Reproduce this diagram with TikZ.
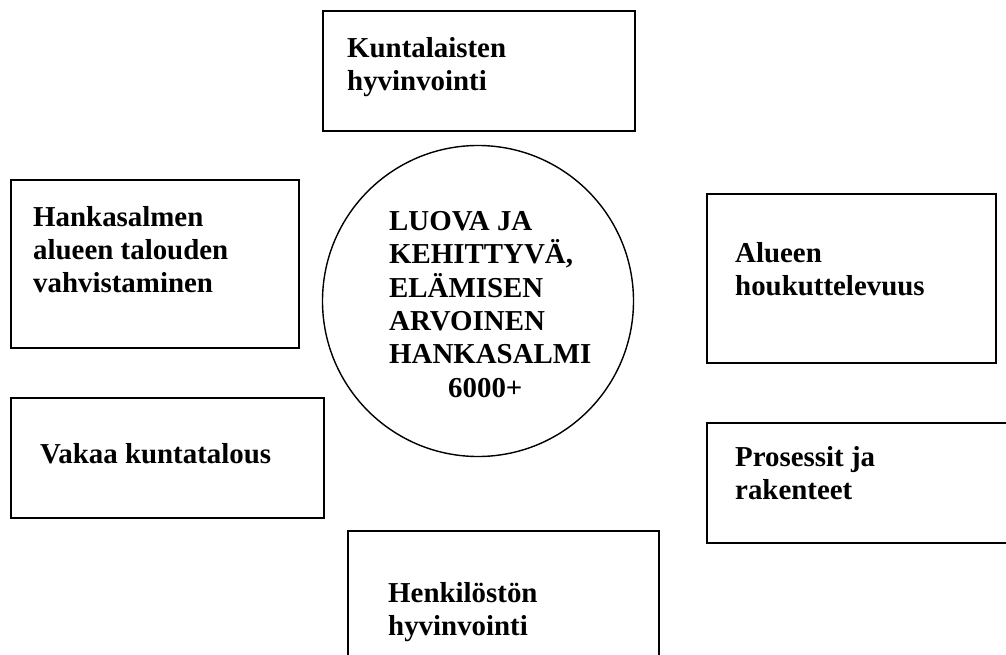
\documentclass[tikz,border=0pt]{standalone}
\usepackage{fontspec}
\setmainfont{Liberation Serif}
\begin{document}
\begin{tikzpicture}[x=1bp,y=-1bp,
  lbl/.style={font=\bfseries\fontsize{29}{33.5}\selectfont, align=left, inner sep=0pt, anchor=north west},
  box/.style={draw, line width=1.8bp, rectangle, inner sep=0pt, anchor=north west},
  ring/.style={draw, circle, line width=1.4bp, inner sep=0pt},
]
\useasboundingbox (0,0) rectangle (1006,655);
% boxes
\node[box, minimum width=312bp, minimum height=120bp] (kunta) at (322,10) {};
\node[box, minimum width=288bp, minimum height=168bp] (hanka) at (10,179) {};
\node[box, minimum width=289bp, minimum height=169bp] (alue) at (706,193) {};
\node[box, minimum width=304bp, minimum height=120bp] (pros) at (706,422) {};
\node[box, minimum width=313bp, minimum height=120bp] (vakaa) at (10,397) {};
\node[box, minimum width=311bp, minimum height=162bp] (henk) at (347,530) {};
\node[ring, minimum size=311bp] (core) at (478,301) {};
% texts
\node[lbl] (kuntat) at (347,37) {Kuntalaisten\\hyvinvointi};
\node[lbl] (hankat) at (33,206) {Hankasalmen\\alueen talouden\\vahvistaminen};
\node[lbl] (aluet) at (735,242) {Alueen\\houkuttelevuus};
\node[lbl] (prost) at (735,446) {Prosessit ja\\rakenteet};
\node[lbl] (vakaat) at (40,443) {Vakaa kuntatalous};
\node[lbl] (henkt) at (388,582) {Henkilöstön\\hyvinvointi};
\node[lbl] (coretext) at (389,211) {LUOVA JA\\KEHITTYVÄ,\\ELÄMISEN\\ARVOINEN\\HANKASALMI\\\hspace*{59bp}6000+};
\end{tikzpicture}
\end{document}
